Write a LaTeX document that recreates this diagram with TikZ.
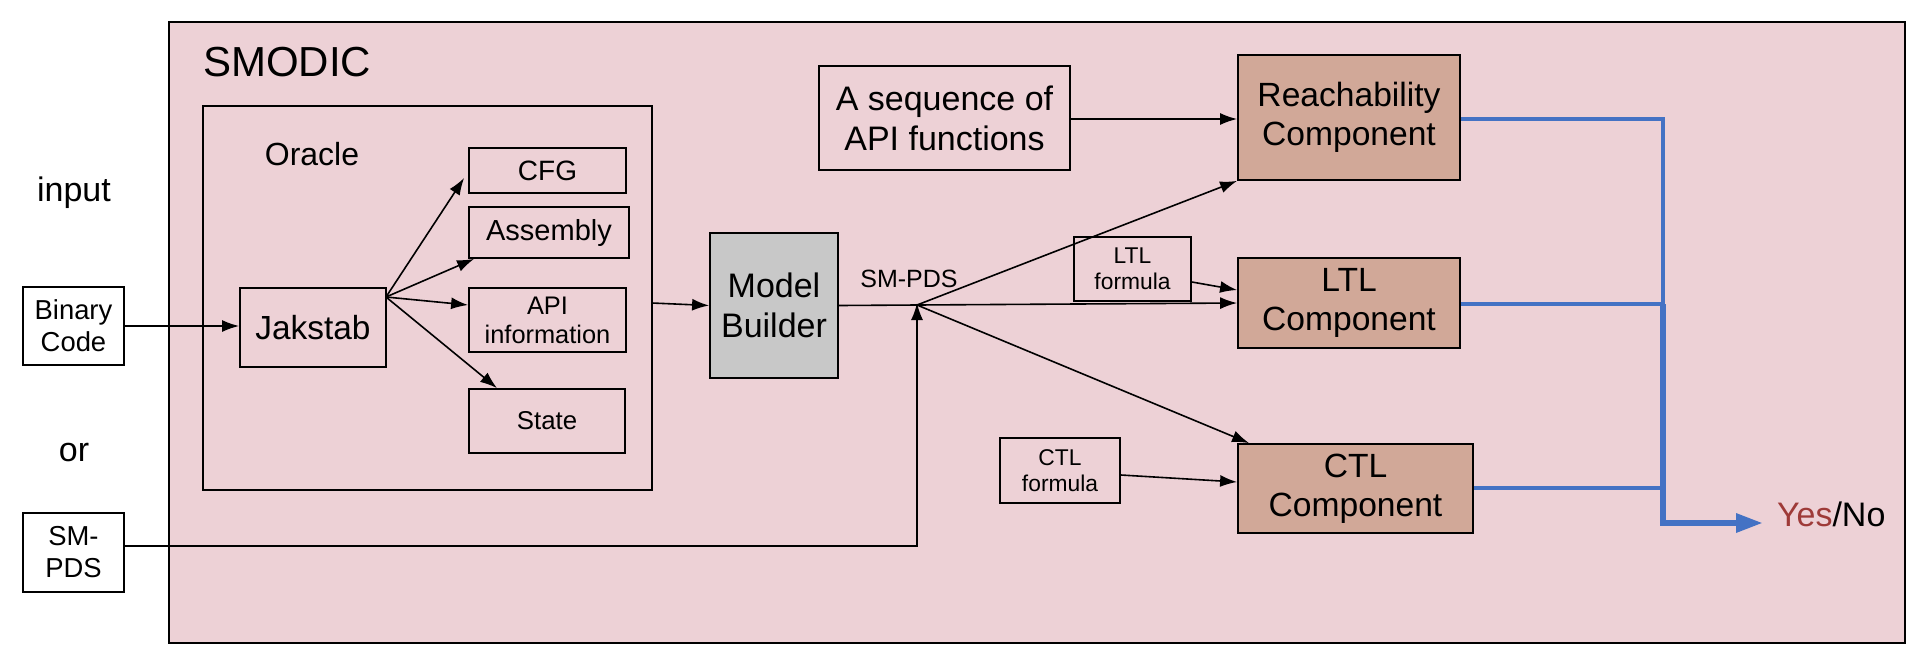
\documentclass[tikz,border=0pt]{standalone}
\usepackage{fontspec}
\setmainfont{Liberation Sans}
\usetikzlibrary{arrows.meta}
\definecolor{smodicbg}{RGB}{237,209,214}
\definecolor{compfill}{RGB}{209,168,152}
\definecolor{buildfill}{RGB}{200,200,200}
\definecolor{busblue}{RGB}{68,114,196}
\definecolor{yesred}{RGB}{158,58,56}
\begin{document}
\begin{tikzpicture}[x=0.5pt,y=0.5pt,yscale=-1,xscale=1,
  box/.style={draw, line width=0.9pt, inner sep=1pt, align=center},
  comp/.style={box, fill=compfill},
  arr/.style={-{Latex[length=8.5pt,width=6pt]}, line width=0.8pt},
  bus/.style={draw=busblue, line width=1.9pt}]
\useasboundingbox (0,0) rectangle (1929,670);

%Shape: Rectangle [SMODIC]
\draw [line width=0.9pt, fill=smodicbg] (169,22) rectangle (1905,643);
%Shape: Rectangle [Oracle]
\draw [line width=0.9pt] (203,106) rectangle (652,490);
\coordinate (oracleout) at (652,303);

% Text Node
\node (smodic) [anchor=west, font=\fontsize{21}{25}\selectfont] at (196,62) {SMODIC};
\node (oracle) [font=\fontsize{16}{19}\selectfont] at (312,154) {Oracle};
\node (input) [font=\fontsize{17}{20}\selectfont] at (74,193) {input};
\node (or) [font=\fontsize{17}{20}\selectfont] at (74,453) {or};

%Inputs
\node (binary) [box, fill=white, minimum width=50.5pt, minimum height=39pt, font=\fontsize{13.7}{16}\selectfont] at (73.5,326) {Binary\\Code};
\node (smpdsin) [box, fill=white, minimum width=50.5pt, minimum height=39.5pt, font=\fontsize{13.7}{16}\selectfont] at (73.5,552.5) {SM-\\PDS};

%Oracle parts
\node (jakstab) [box, minimum width=73pt, minimum height=39.5pt, font=\fontsize{16.7}{20}\selectfont] at (313,327.5) {Jakstab};
\node (cfg) [box, minimum width=78.5pt, minimum height=22.5pt, font=\fontsize{14}{16}\selectfont] at (547.5,170.5) {CFG};
\node (assembly) [box, minimum width=80pt, minimum height=25.5pt, font=\fontsize{14.5}{17}\selectfont] at (549,232.5) {Assembly};
\node (apiinfo) [box, minimum width=78.5pt, minimum height=32pt, font=\fontsize{12.7}{14.5}\selectfont] at (547.5,320) {API\\information};
\node (state) [box, minimum width=78pt, minimum height=32pt, font=\fontsize{12.9}{15}\selectfont] at (547,421) {State};
\coordinate (fan) at (386,297);

%Model builder and properties
\node (builder) [box, fill=buildfill, minimum width=64pt, minimum height=72.5pt, font=\fontsize{17}{20}\selectfont] at (774,305.5) {Model\\Builder};
\coordinate (junction) at (917,305);
\node (smpdslbl) [font=\fontsize{12.5}{15}\selectfont] at (909,279) {SM-PDS};
\node (apiseq) [box, minimum width=125.5pt, minimum height=52pt, font=\fontsize{17}{20}\selectfont] at (944.5,118) {A sequence of\\API functions};
\node (ltlf) [box, minimum width=58.5pt, minimum height=32pt, font=\fontsize{11.4}{13}\selectfont] at (1132.5,269) {LTL\\formula};
\node (ctlf) [box, minimum width=60pt, minimum height=32.5pt, font=\fontsize{11.4}{13}\selectfont] at (1060,470.5) {CTL\\formula};

%Components
\node (reach) [comp, minimum width=111pt, minimum height=62.5pt, font=\fontsize{16.8}{19.5}\selectfont] at (1349,117.5) {Reachability\\Component};
\node (ltl) [comp, minimum width=111pt, minimum height=45pt, font=\fontsize{16.8}{19.5}\selectfont] at (1349,303) {LTL\\Component};
\node (ctl) [comp, minimum width=117.5pt, minimum height=44.5pt, font=\fontsize{16.8}{19.5}\selectfont] at (1355.5,488.5) {CTL\\Component};

%Result
\coordinate (busa) at (1663,119);
\coordinate (busb) at (1663,304);
\coordinate (busc) at (1663,488);
\coordinate (busd) at (1663,523);
\node (yesno) [anchor=west, font=\fontsize{17}{20}\selectfont] at (1770,514) {\textcolor{yesred}{Yes}/No};

%Straight Lines
\draw [arr] (binary.east |- 0,326) -- (jakstab.west |- 0,326);
\draw [arr] (fan) -- ([xshift=-2pt]cfg.west |- 0,178);
\draw [arr] (fan) -- ([xshift=3pt]assembly.south west);
\draw [arr] (fan) -- (apiinfo.west |- 0,305);
\draw [arr] (fan) -- ([xshift=-25pt]state.north);
\draw [arr] (oracleout) -- (builder.west);
\draw [line width=0.8pt] (builder.east) -- (junction);
\draw [arr] (smpdsin.east |- 0,546) -| ([yshift=-1pt]junction);
\draw [arr] (junction) -- (reach.south west);
\draw [arr] (junction) -- (ltl.west);
\draw [arr] (junction) -- ([xshift=6pt]ctl.north west);
\draw [arr] (apiseq.east |- 0,119) -- (reach.west |- 0,119);
\draw [arr] (ltlf.east |- 0,282) -- (ltl.west |- 0,290);
\draw [arr] (ctlf.east |- 0,475) -- (ctl.west |- 0,482);

%Blue lines
\draw [bus] (reach.east |- busa) -- (busa) -- (busb);
\draw [bus] (ltl.east |- busb) -- (busb);
\draw [bus] (ctl.east |- busc) -- (busc);
\draw [draw=busblue, line width=3pt, -{Triangle[length=13.5pt,width=9pt]}] (busb) -- (busd) -- (1763,523);

\end{tikzpicture}
\end{document}
